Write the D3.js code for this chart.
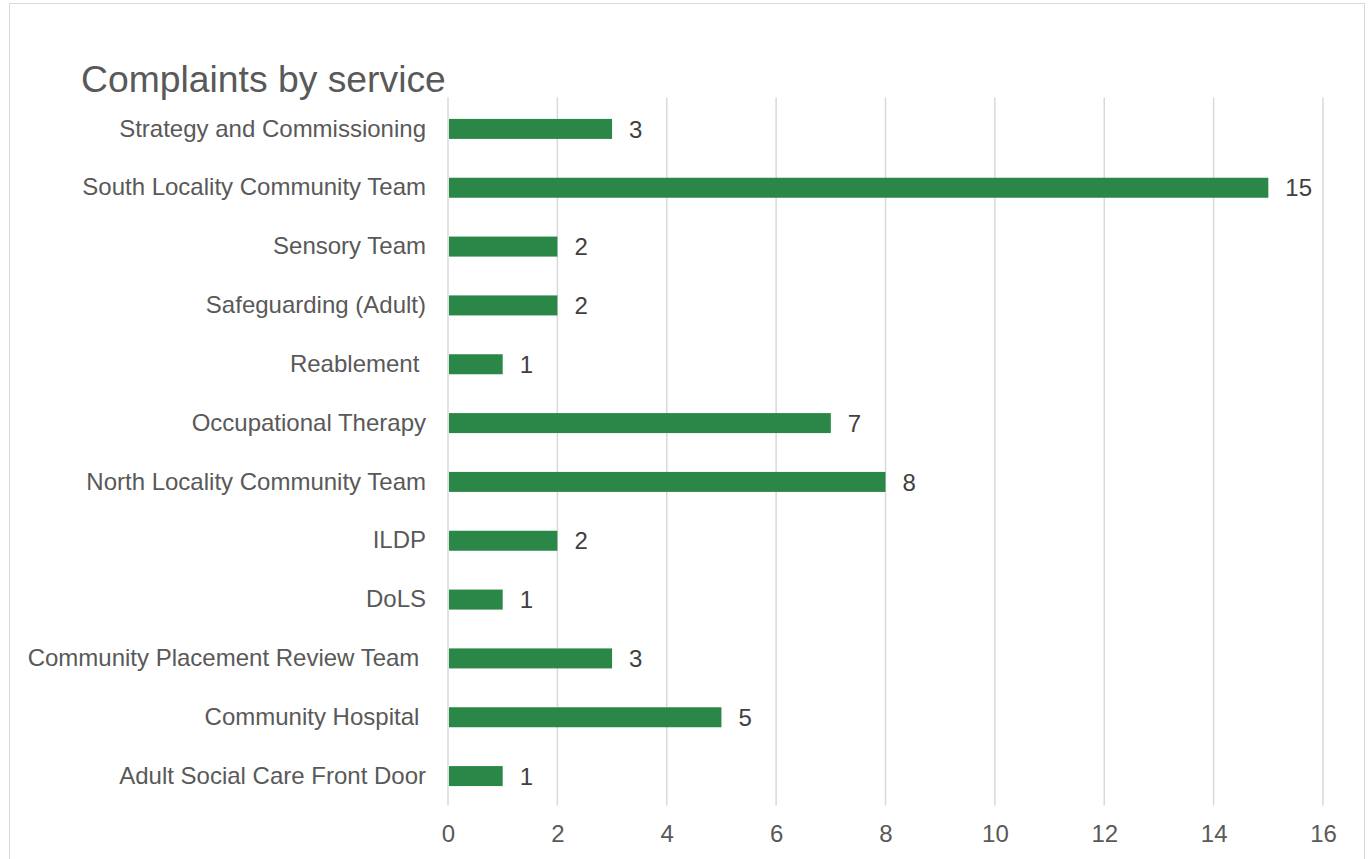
<!DOCTYPE html>
<html>
<head>
<meta charset="utf-8">
<script src="https://cdn.jsdelivr.net/npm/d3@7"></script>
<style>
  html, body { margin: 0; padding: 0; background: #fff; }
  svg { display: block; font-family: "Liberation Sans", Arial, sans-serif; }
  text { white-space: pre; }
</style>
</head>
<body>
<svg id="chart" width="1371" height="859"></svg>
<script>
// Services, listed top to bottom as displayed
const services = [
  "Strategy and Commissioning",
  "South Locality Community Team",
  "Sensory Team",
  "Safeguarding (Adult)",
  "Reablement ",
  "Occupational Therapy",
  "North Locality Community Team",
  "ILDP",
  "DoLS",
  "Community Placement Review Team ",
  "Community Hospital ",
  "Adult Social Care Front Door"
];
const complaints = [3, 15, 2, 2, 1, 7, 8, 2, 1, 3, 5, 1];
const xTicks = [0, 2, 4, 6, 8, 10, 12, 14, 16];

const svg = d3.select("#chart");
const W = 1371, H = 859;
const margin = { left: 448, right: 48, top: 99.5, bottom: 53.5 };

// outer chart frame
svg.append("rect")
  .attr("x", 9.5).attr("y", 3.5)
  .attr("width", 1355).attr("height", 870)
  .attr("fill", "#fff").attr("stroke", "#d9d9d9").attr("stroke-width", 1);

const x = d3.scaleLinear().domain([0, 16]).range([margin.left, W - margin.right]);
const y = d3.scaleBand().domain(services).range([margin.top, H - margin.bottom]).paddingInner(0.66).paddingOuter(0.33);

// vertical gridlines
svg.append("g")
  .selectAll("line")
  .data(xTicks)
  .join("line")
  .attr("x1", d => x(d)).attr("x2", d => x(d))
  .attr("y1", margin.top - 2).attr("y2", H - margin.bottom)
  .attr("stroke", "#d9d9d9").attr("stroke-width", 1.5);

// x axis tick labels
const xAxis = d3.axisBottom(x).tickValues(xTicks).tickSize(0).tickPadding(0);
const gx = svg.append("g").attr("transform", `translate(0,833.5)`).call(xAxis);
gx.select(".domain").remove();
gx.selectAll("text")
  .attr("y", 0)
  .attr("dy", "0.36em")
  .attr("font-size", 24).attr("fill", "#595959")
  .attr("font-family", "'Liberation Sans', Arial, sans-serif");

// category labels
const yAxis = d3.axisLeft(y).tickSize(0).tickPadding(22);
const gy = svg.append("g").attr("transform", `translate(${margin.left},0)`).call(yAxis);
gy.select(".domain").remove();
gy.selectAll("text")
  .attr("font-size", 24).attr("fill", "#595959")
  .attr("font-family", "'Liberation Sans', Arial, sans-serif");

// bars
svg.append("g")
  .selectAll("rect")
  .data(services)
  .join("rect")
  .attr("x", x(0) + 1)
  .attr("y", d => y(d))
  .attr("width", (d, i) => x(complaints[i]) - x(0) - 1)
  .attr("height", y.bandwidth())
  .attr("fill", "#2a8748");

// value labels
svg.append("g")
  .selectAll("text")
  .data(services)
  .join("text")
  .attr("x", (d, i) => x(complaints[i]) + 17)
  .attr("y", d => y(d) + y.bandwidth() / 2)
  .attr("dy", "0.36em")
  .attr("font-size", 24).attr("fill", "#404040")
  .text((d, i) => complaints[i]);

// title
svg.append("text")
  .attr("x", 81).attr("y", 92)
  .attr("font-size", 37.3).attr("fill", "#595959")
  .text("Complaints by service");
</script>
</body>
</html>
